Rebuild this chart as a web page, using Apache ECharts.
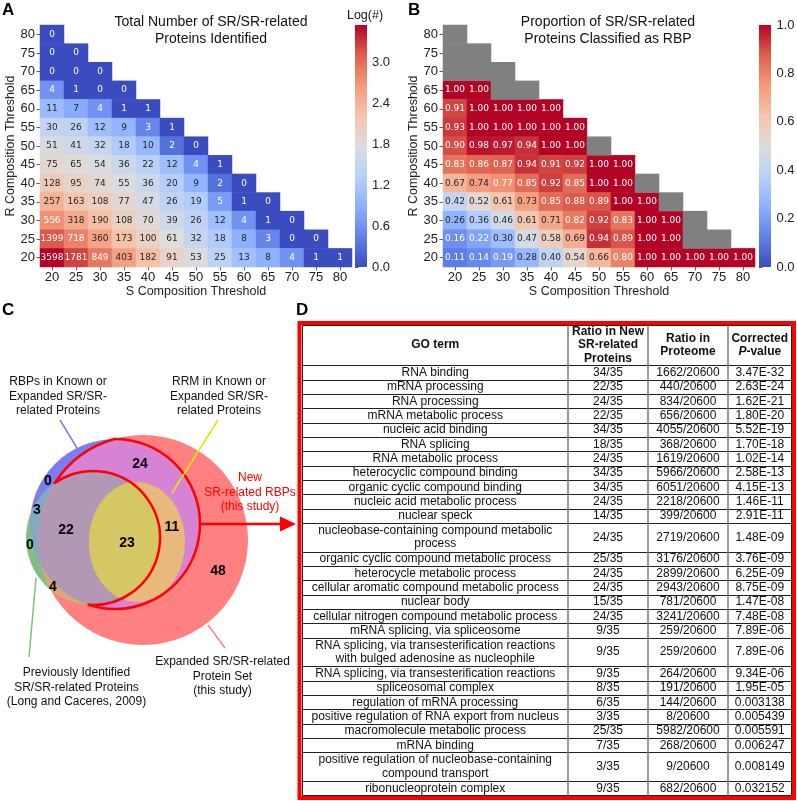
<!DOCTYPE html>
<html><head><meta charset="utf-8">
<script src="https://cdn.jsdelivr.net/npm/echarts@6/dist/echarts.min.js"></script>
<style>html,body{margin:0;padding:0;background:#fff}#c{width:797px;height:801px}</style>
</head><body><div id="c"></div>
<script>
// ---------------- DATA ----------------
const thresholds = ['20','25','30','35','40','45','50','55','60','65','70','75','80'];
const rowThresholds = ['80','75','70','65','60','55','50','45','40','35','30','25','20'];
const totalCounts = [
 [0],
 [0,0],
 [0,0,0],
 [4,1,0,0],
 [11,7,4,1,1],
 [30,26,12,9,3,1],
 [51,41,32,18,10,2,0],
 [75,65,54,36,22,12,4,1],
 [128,95,74,55,36,20,9,2,0],
 [257,163,108,77,47,26,19,5,1,0],
 [556,318,190,108,70,39,26,12,4,1,0],
 [1399,718,360,173,100,61,32,18,8,3,0,0],
 [3598,1781,849,403,182,91,53,25,13,8,4,1,1]
];
const rbpProportion = [
 [null],
 [null,null],
 [null,null,null],
 [1.00,1.00,null,null],
 [0.91,1.00,1.00,1.00,1.00],
 [0.93,1.00,1.00,1.00,1.00,1.00],
 [0.90,0.98,0.97,0.94,1.00,1.00,null],
 [0.83,0.86,0.87,0.94,0.91,0.92,1.00,1.00],
 [0.67,0.74,0.77,0.85,0.92,0.85,1.00,1.00,null],
 [0.42,0.52,0.61,0.73,0.85,0.88,0.89,1.00,1.00,null],
 [0.26,0.36,0.46,0.61,0.71,0.82,0.92,0.83,1.00,1.00,null],
 [0.16,0.22,0.30,0.47,0.58,0.69,0.94,0.89,1.00,1.00,null,null],
 [0.11,0.14,0.19,0.28,0.40,0.54,0.66,0.80,1.00,1.00,1.00,1.00,1.00]
];
const logTicks = [0, 0.6, 1.2, 1.8, 2.4, 3.0];
const propTicks = [0, 0.2, 0.4, 0.6, 0.8, 1.0];
const propTickLabels = ['0.0','0.2','0.4','0.6','0.8','1.0'];

const vennRegionCounts = ['0','3','0','22','23','11','24','4','48'];
const vennSetLabels = [
 ['RBPs in Known or','Expanded SR/SR-','related Proteins'],
 ['RRM in Known or','Expanded SR/SR-','related Proteins'],
 ['Previously Identified','SR/SR-related Proteins','(Long and Caceres, 2009)'],
 ['Expanded SR/SR-related','Protein Set','(this study)'],
 ['New','SR-related RBPs','(this study)']
];

const goTerms = [
 'RNA binding','mRNA processing','RNA processing','mRNA metabolic process','nucleic acid binding',
 'RNA splicing','RNA metabolic process','heterocyclic compound binding','organic cyclic compound binding',
 'nucleic acid metabolic process','nuclear speck','nucleobase-containing compound metabolic\nprocess',
 'organic cyclic compound metabolic process','heterocycle metabolic process',
 'cellular aromatic compound metabolic process','nuclear body','cellular nitrogen compound metabolic process',
 'mRNA splicing, via spliceosome',
 'RNA splicing, via transesterification reactions\nwith bulged adenosine as nucleophile',
 'RNA splicing, via transesterification reactions','spliceosomal complex','regulation of mRNA processing',
 'positive regulation of RNA export from nucleus','macromolecule metabolic process','mRNA binding',
 'positive regulation of nucleobase-containing\ncompound transport','ribonucleoprotein complex'
];
const ratioNew = ['34/35','22/35','24/35','22/35','34/35','18/35','24/35','34/35','34/35','24/35','14/35',
 '24/35','25/35','24/35','24/35','15/35','24/35','9/35','9/35','9/35','8/35','6/35','3/35','25/35','7/35','3/35','9/35'];
const ratioProteome = ['1662/20600','440/20600','834/20600','656/20600','4055/20600','368/20600','1619/20600',
 '5966/20600','6051/20600','2218/20600','399/20600','2719/20600','3176/20600','2899/20600','2943/20600',
 '781/20600','3241/20600','259/20600','259/20600','264/20600','191/20600','144/20600','8/20600',
 '5982/20600','268/20600','9/20600','682/20600'];
const pValues = ['3.47E-32','2.63E-24','1.62E-21','1.80E-20','5.52E-19','1.70E-18','1.02E-14','2.58E-13',
 '4.15E-13','1.46E-11','2.91E-11','1.48E-09','3.76E-09','6.25E-09','8.75E-09','1.47E-08','7.48E-08',
 '7.89E-06','7.89E-06','9.34E-06','1.95E-05','0.003138','0.005439','0.005591','0.006247','0.008149','0.032152'];

// ---------------- HELPERS ----------------
const FONT = '"Liberation Sans", Arial, sans-serif';
const coolwarm = ['#3b4cc0','#6282ea','#8db0fe','#b8d0f9','#dddddd','#f5c4ac','#f49a7b','#de604d','#b40426'];
function hex(h){return [1,3,5].map(i=>parseInt(h.substr(i,2),16));}
function cwRGB(t){t=Math.max(0,Math.min(1,t));const n=coolwarm.length-1;const i=Math.min(n-1,Math.floor(t*n));const f=t*n-i;const a=hex(coolwarm[i]),b=hex(coolwarm[i+1]);return a.map((v,k)=>v+(b[k]-v)*f);}
function lum(rgb){const c=rgb.map(v=>{v/=255;return v<=0.03928?v/12.92:Math.pow((v+0.055)/1.055,2.4);});return 0.2126*c[0]+0.7152*c[1]+0.0722*c[2];}
function textColor(t){return lum(cwRGB(t))>0.408?'#262626':'#ffffff';}

const maxLog = Math.log10(Math.max(...totalCounts.flat()));
const dataA=[], dataB=[], dataNaN=[];
rowThresholds.forEach((r,ri)=>{
  const yi = thresholds.indexOf(r);
  totalCounts[ri].forEach((cnt,ci)=>{
    const v = Math.log10(Math.max(cnt,1));
    dataA.push({value:[ci,yi,v], label:{formatter:String(cnt), color:textColor(v/maxLog)}});
  });
  rbpProportion[ri].forEach((p,ci)=>{
    if(p===null) dataNaN.push([ci,yi,0]);
    else dataB.push({value:[ci,yi,p], label:{formatter:p.toFixed(2), color:textColor(p)}});
  });
});

function catAxis(grid, name, isY){
  return {type:'category', gridIndex:grid, data:thresholds,
    axisLine:{show:false}, splitLine:{show:false}, splitArea:{show:false},
    axisTick:{show:true, alignWithLabel:true, length:3.5, lineStyle:{color:'#333', width:0.8}},
    axisLabel:{margin:isY?5:4, fontSize:13, fontFamily:FONT, color:'#222'},
    name:name, nameLocation:'middle', nameGap:isY?21:17.5, nameRotate:isY?90:0,
    nameTextStyle:{fontSize:12.5, fontFamily:FONT, color:'#222'}};
}
const barLabel = {formatter:v=>v.toFixed(1), margin:5, fontSize:13, fontFamily:FONT, color:'#222'};
const gradient = {type:'linear', x:0, y:1, x2:0, y2:0, colorStops: coolwarm.map((c,i)=>({offset:i/(coolwarm.length-1), color:c}))};

// ---------------- GRAPHIC (texts, table) ----------------
const gfx = [];
function txtEl(text,x,y,opt){opt=opt||{};return {type:'text', silent:true, z:10, style:{text:text, x:x, y:y,
  fill:opt.color||'#111', font:(opt.style||'')+' '+(opt.weight||'normal')+' '+(opt.size||12)+'px '+FONT,
  textAlign:opt.align||'center', textVerticalAlign:'middle'}};}
function txt(text,x,y,opt){gfx.push(txtEl(text,x,y,opt));}
function ln(x1,y1,x2,y2,color,w){gfx.push({type:'line', silent:true, z:10, shape:{x1,y1,x2,y2}, style:{stroke:color, lineWidth:w}});}

txt('A',2,10,{weight:'bold',size:17,align:'left',color:'#000'});
txt('B',408,10,{weight:'bold',size:17,align:'left',color:'#000'});
txt('C',2,310,{weight:'bold',size:17,align:'left',color:'#000'});
txt('D',296,310,{weight:'bold',size:17,align:'left',color:'#000'});
txt('Total Number of SR/SR-related',211,22.5,{size:14,color:'#111'});
txt('Proteins Identified',211,39.5,{size:14,color:'#111'});
txt('Proportion of SR/SR-related',608,22.5,{size:14,color:'#111'});
txt('Proteins Classified as RBP',608,39.5,{size:14,color:'#111'});
txt('Log(#)',365,16,{size:12.5,color:'#111'});
gfx.push({type:'rect', silent:true, z:1, shape:{x:355,y:25,width:12,height:242}, style:{fill:gradient}});
gfx.push({type:'rect', silent:true, z:1, shape:{x:759,y:25,width:12,height:242}, style:{fill:gradient}});

// table
const cols=[302.5,568,648,728,791.5];
const tTop=325.5, hBot=365.5, unit=14.33;
gfx.push({type:'rect', silent:true, z:11, shape:{x:299.5,y:323,width:494.5,height:475}, style:{fill:null, stroke:'#ff0000', lineWidth:4}});
ln(cols[0],tTop,cols[4],tTop,'#222',1);
ln(cols[0],hBot,cols[4],hBot,'#222',1);
const cc=[(cols[0]+cols[1])/2,(cols[1]+cols[2])/2,(cols[2]+cols[3])/2,(cols[3]+cols[4])/2];
txt('GO term',cc[0],345,{weight:'bold'});
txt('Ratio in New',cc[1],331.5,{weight:'bold'});
txt('SR-related',cc[1],345,{weight:'bold'});
txt('Proteins',cc[1],358.5,{weight:'bold'});
txt('Ratio in',cc[2],338.5,{weight:'bold'});
txt('Proteome',cc[2],352,{weight:'bold'});
txt('Corrected',cc[3],338.5,{weight:'bold'});
txt('P',cc[3]-21.3,352,{weight:'bold',style:'italic',align:'left'});
txt('-value',cc[3]-13.3,352,{weight:'bold',align:'left'});
let y=hBot;
goTerms.forEach((g,i)=>{
  const lines=g.split('\n'); const h=unit*lines.length; const mid=y+h/2;
  lines.forEach((l,k)=>txt(l,cc[0],mid+(k-(lines.length-1)/2)*13.4,{}));
  txt(ratioNew[i],cc[1],mid,{});
  txt(ratioProteome[i],cc[2],mid,{});
  txt(pValues[i],cc[3],mid,{});
  y+=h;
  ln(cols[0],Math.round(y)+0.5,cols[4],Math.round(y)+0.5,'#222',1);
});
const tBot=Math.round(y)+0.5;
cols.forEach((x,i)=>ln(x,tTop,x,tBot,(i===0||i===4)?'#222':'#7a7a7a',(i===0||i===4)?1:1.5));

// ---------------- OPTION ----------------
const option = {
  animation:false,
  backgroundColor:'#ffffff',
  grid:[
    {left:40, top:25, width:312, height:242},
    {left:443, top:25, width:312, height:242},
    {left:355, top:25, width:12, height:242},
    {left:759, top:25, width:12, height:242}
  ],
  xAxis:[catAxis(0,'S Composition Threshold',false), catAxis(1,'S Composition Threshold',false),
    {type:'value', gridIndex:2, show:false, min:0, max:1}, {type:'value', gridIndex:3, show:false, min:0, max:1}],
  yAxis:[catAxis(0,'R Composition Threshold',true), catAxis(1,'R Composition Threshold',true),
    {type:'value', gridIndex:2, min:0, max:maxLog, position:'right', axisLine:{show:false}, splitLine:{show:false},
      axisTick:{show:true, length:3.5, customValues:logTicks, lineStyle:{color:'#333', width:0.8}},
      axisLabel:Object.assign({customValues:logTicks}, barLabel)},
    {type:'value', gridIndex:3, min:0, max:1, interval:0.2, position:'right', axisLine:{show:false}, splitLine:{show:false},
      axisTick:{show:true, length:3.5, customValues:propTicks, lineStyle:{color:'#333', width:0.8}},
      axisLabel:{show:false}}],
  visualMap:[
    {type:'continuous', show:false, seriesIndex:0, dimension:2, min:0, max:maxLog, inRange:{color:coolwarm}},
    {type:'continuous', show:false, seriesIndex:1, dimension:2, min:0, max:1, inRange:{color:coolwarm}}
  ],
  series:[
    {type:'heatmap', xAxisIndex:0, yAxisIndex:0, data:dataA, emphasis:{disabled:true},
      label:{show:true, fontSize:9, fontFamily:'DejaVu Sans'}},
    {type:'heatmap', xAxisIndex:1, yAxisIndex:1, data:dataB, emphasis:{disabled:true},
      label:{show:true, fontSize:9, fontFamily:'DejaVu Sans'}},
    {type:'heatmap', xAxisIndex:1, yAxisIndex:1, data:dataNaN, emphasis:{disabled:true},
      itemStyle:{color:'#808080'}, label:{show:false}}
  ],
  graphic:{elements:gfx}
};
const chart = echarts.init(document.getElementById('c'), null, {renderer:'canvas'});
chart.setOption(option);

(function(){
  const zr = chart.getZr();
  const G = echarts.graphic;
  // colorbar B tick labels, placed with the axis scale (own layer on top)
  propTicks.forEach((v,i)=>{
    let py = chart.convertToPixel({yAxisIndex:3}, v);
    if(!isFinite(py)) py = 267 - v*242;
    zr.add(new G.Text({style:{text:propTickLabels[i], x:776.5, y:py, fill:'#222', font:'13px '+FONT,
      align:'left', verticalAlign:'middle'}, zlevel:2, z:60, silent:true}));
  });

  // ---------------- VENN (clipped regions) ----------------
  const red={cx:143,cy:540,r:105}, blue={cx:115,cy:524,r:85}, green={cx:93,cy:538,r:67}, yel={cx:137,cy:542,rx:48,ry:60};
  let z2=0;
  const mk=(s)=> s.rx ? new G.Ellipse({shape:{cx:s.cx,cy:s.cy,rx:s.rx,ry:s.ry}}) : new G.Circle({shape:{cx:s.cx,cy:s.cy,r:s.r}});
  function s2(s,color){
    const opt={style:{fill:color, stroke:null}, z:3, z2:z2++, silent:true};
    return s.rx ? new G.Ellipse(Object.assign({shape:{cx:s.cx,cy:s.cy,rx:s.rx,ry:s.ry}},opt)) : new G.Circle(Object.assign({shape:{cx:s.cx,cy:s.cy,r:s.r}},opt));
  }
  function region(shape, clips, color){
    let node = s2(shape, color);
    clips.forEach(c=>{const g=new G.Group(); g.add(node); g.setClipPath(mk(c)); node=g;});
    zr.add(node);
  }
  region(red,[], '#ff8080');
  region(blue,[], '#7d7df2');
  region(blue,[red], '#d683d6');
  region(green,[], '#80c080');
  region(green,[blue], '#80a9c4');
  region(green,[red], '#dca878');
  region(green,[blue,red], '#b298b4');
  region(yel,[], '#e9b97b');
  region(yel,[green], '#d5c763');

  function meet(a,b){const dx=b.cx-a.cx, dy=b.cy-a.cy, d=Math.hypot(dx,dy);
    const l=(a.r*a.r-b.r*b.r+d*d)/(2*d), h=Math.sqrt(a.r*a.r-l*l), mx=a.cx+dx*l/d, my=a.cy+dy*l/d;
    const p=[[mx+h*dy/d,my-h*dx/d],[mx-h*dy/d,my+h*dx/d]]; return p.sort((u,v)=>u[1]-v[1]);}
  const P1 = meet(red,green)[0], Q = meet(red,blue)[0], P2 = meet(blue,green)[1];
  const ang=(c,p)=>Math.atan2(p[1]-c.cy,p[0]-c.cx);
  function arc(c,p,q){let a1=ang(c,p), a2=ang(c,q); if(a2<a1) a2+=2*Math.PI;
    zr.add(new G.Arc({shape:{cx:c.cx,cy:c.cy,r:c.r,startAngle:a1,endAngle:a2,clockwise:true},
      style:{stroke:'#ff0000', lineWidth:2.5, fill:null, lineCap:'round'}, z:4, silent:true}));}
  arc(red,P1,Q); arc(blue,Q,P2); arc(green,P1,P2);
  zr.add(new G.Line({shape:{x1:200,y1:524,x2:284,y2:524}, style:{stroke:'#ff0000', lineWidth:2.5}, z:4, silent:true}));
  zr.add(new G.Polygon({shape:{points:[[280,516.5],[296,524],[280,531.5]]}, style:{fill:'#ff0000'}, z:4, silent:true}));
  const L=(p,q,c)=>zr.add(new G.Line({shape:{x1:p[0],y1:p[1],x2:q[0],y2:q[1]}, style:{stroke:c, lineWidth:1.5}, z:4, silent:true}));
  L([60,420],[77,448],'#7d7df2');
  L([218,420],[172,493],'#e6e600');
  L([36,578],[29,657],'#80c080');
  L([208,625],[225,648],'#ff8080');
  const pos=[[48,481],[37,510],[30,545],[66,530],[127,543],[172,527],[140,464],[53,587],[218,571]];
  vennRegionCounts.forEach((t,i)=>zr.add(new G.Text({style:{text:t, x:pos[i][0], y:pos[i][1], fill:'#000',
    font:'bold 14px '+FONT, align:'center', verticalAlign:'middle'}, z:5, silent:true})));
  const lab=[[58,382],[219,382],[76.5,673],[222.5,662],[250,478]];
  vennSetLabels.forEach((lines,i)=>lines.forEach((t,k)=>zr.add(new G.Text({style:{text:t, x:lab[i][0], y:lab[i][1]+k*14.5,
    fill:i===4?'#ff0000':'#111', font:'12px '+FONT, align:'center', verticalAlign:'middle'}, z:5, silent:true}))));
})();
</script></body></html>
